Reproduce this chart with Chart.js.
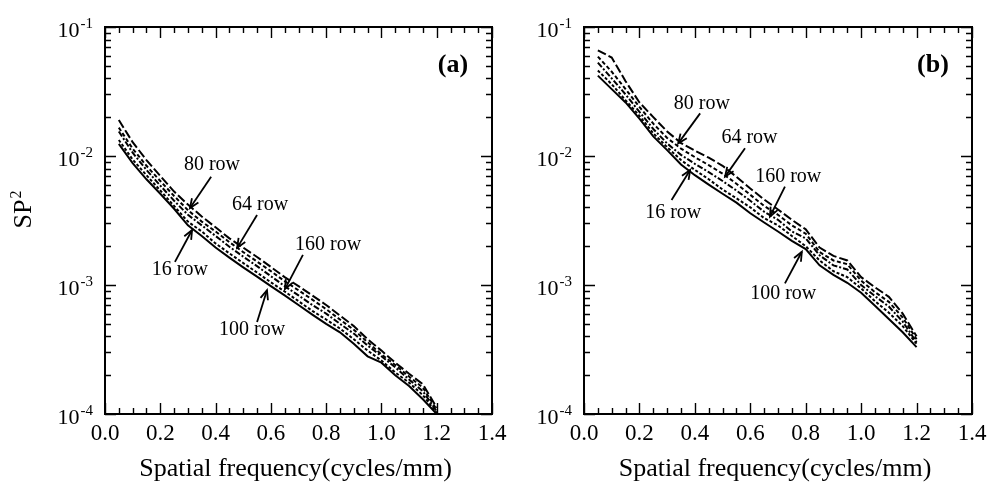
<!DOCTYPE html>
<html>
<head>
<meta charset="utf-8">
<script src="https://cdn.jsdelivr.net/npm/chart.js@4.4.1/dist/chart.umd.min.js"></script>
<style>
  body { margin: 0; background: #fff; }
  #wrap { position: relative; width: 987px; height: 482px; }
  canvas { position: absolute; top: 0; }
</style>
</head>
<body>
<div id="wrap">
  <canvas id="chartA" width="530" height="482" style="left:0"></canvas>
  <canvas id="chartB" width="493" height="482" style="left:494px"></canvas>
</div>
<script>
// spatial frequency (cycles/mm) where each curve was read
const freq = [0.05, 0.10, 0.15, 0.20, 0.25, 0.30, 0.35, 0.40, 0.45, 0.50, 0.55, 0.60,
              0.65, 0.70, 0.75, 0.80, 0.85, 0.90, 0.95, 1.00, 1.05, 1.10, 1.15, 1.20];

const seriesNames = ['80 row', '64 row', '160 row', '16 row', '100 row'];

// panel (a)
const a80  = [0.0190, 0.0128, 0.0093, 0.0070, 0.0053, 0.0042, 0.0034, 0.0028, 0.0023, 0.00195, 0.00165, 0.00138,
              0.00115, 0.00098, 0.00083, 0.00070, 0.00058, 0.00048, 0.00038, 0.00031, 0.00025, 0.000205, 0.000170, 0.000112];
const a64  = [0.0166, 0.0114, 0.0084, 0.0064, 0.0049, 0.0038, 0.0031, 0.0026, 0.00215, 0.00180, 0.00152, 0.00128,
              0.00107, 0.00091, 0.00077, 0.00065, 0.00054, 0.00045, 0.00036, 0.00029, 0.00024, 0.000195, 0.000160, 0.000108];
const a160 = [0.0155, 0.0106, 0.0078, 0.0059, 0.0045, 0.0035, 0.0029, 0.0024, 0.00198, 0.00166, 0.00140, 0.00117,
              0.00098, 0.00083, 0.00070, 0.00060, 0.00050, 0.00042, 0.00034, 0.00028, 0.00023, 0.000185, 0.000150, 0.000105];
const a16  = [0.0133, 0.0094, 0.0071, 0.0054, 0.0041, 0.0031, 0.0026, 0.0021, 0.00176, 0.00148, 0.00125, 0.00105,
              0.00089, 0.00075, 0.00063, 0.00054, 0.00046, 0.00038, 0.00031, 0.00026, 0.00021, 0.000175, 0.000140, 0.000102];
const a100 = [0.0124, 0.0088, 0.0066, 0.0051, 0.0039, 0.0029, 0.0024, 0.00195, 0.00163, 0.00137, 0.00116, 0.00098,
              0.00083, 0.00070, 0.00059, 0.00050, 0.00043, 0.00035, 0.00028, 0.00025, 0.00020, 0.000165, 0.000130, 0.000100];

// panel (b)
const b80  = [0.066, 0.058, 0.038, 0.026, 0.020, 0.0155, 0.0126, 0.0110, 0.0097, 0.0084, 0.0069, 0.0056,
              0.0046, 0.00385, 0.0032, 0.0027, 0.00195, 0.00168, 0.00155, 0.00115, 0.00096, 0.00081, 0.00060, 0.00040];
const b64  = [0.059, 0.045, 0.033, 0.024, 0.0178, 0.0138, 0.0114, 0.0098, 0.0085, 0.0073, 0.0061, 0.0050,
              0.0041, 0.0035, 0.0029, 0.0025, 0.0018, 0.00155, 0.00145, 0.00108, 0.00088, 0.00074, 0.00056, 0.00038];
const b160 = [0.053, 0.040, 0.030, 0.022, 0.0162, 0.0125, 0.0102, 0.0087, 0.0075, 0.0064, 0.0054, 0.0045,
              0.0037, 0.0032, 0.0026, 0.0023, 0.0017, 0.00142, 0.00132, 0.00100, 0.00082, 0.00068, 0.00052, 0.00036];
const b16  = [0.046, 0.036, 0.027, 0.0205, 0.0150, 0.0117, 0.0093, 0.0078, 0.0066, 0.0055, 0.0047, 0.0040,
              0.0033, 0.0029, 0.0024, 0.0020, 0.00155, 0.00128, 0.00115, 0.00094, 0.00075, 0.00061, 0.00048, 0.00035];
const b100 = [0.042, 0.033, 0.026, 0.0195, 0.0142, 0.0111, 0.0086, 0.0071, 0.0060, 0.0051, 0.00435, 0.0036,
              0.00305, 0.0026, 0.0022, 0.0019, 0.00142, 0.00120, 0.00104, 0.00087, 0.00069, 0.000545, 0.00043, 0.00033];

// axis ticks
const xMajor = [0, 0.2, 0.4, 0.6, 0.8, 1.0, 1.2, 1.4];
const xTickLabels = ['0.0', '0.2', '0.4', '0.6', '0.8', '1.0', '1.2', '1.4'];
const yDecades = [1e-4, 1e-3, 1e-2, 1e-1];
const yTickExp = ['-4', '-3', '-2', '-1'];

// arrow labels: text at (tx,ty), arrow from (ax,ay) to (hx,hy), all in data units
const notesA = [
  { text: '80 row',  tx: 0.387, ty: 8.5e-3,  ax: 0.384, ay: 6.9e-3,  hx: 0.3075, hy: 3.95e-3 },
  { text: '64 row',  tx: 0.561, ty: 4.17e-3, ax: 0.550, ay: 3.49e-3, hx: 0.478,  hy: 1.94e-3 },
  { text: '160 row', tx: 0.807, ty: 2.04e-3, ax: 0.716, ay: 1.71e-3, hx: 0.651,  hy: 9.3e-4 },
  { text: '16 row',  tx: 0.271, ty: 1.31e-3, ax: 0.253, ay: 1.51e-3, hx: 0.315,  hy: 2.67e-3 },
  { text: '100 row', tx: 0.532, ty: 4.48e-4, ax: 0.550, ay: 5.17e-4, hx: 0.586,  hy: 9.1e-4 }
];
const notesB = [
  { text: '80 row',  tx: 0.425, ty: 0.0256,  ax: 0.419, ay: 0.0214,  hx: 0.340, hy: 0.01253 },
  { text: '64 row',  tx: 0.597, ty: 0.01387, ax: 0.581, ay: 0.01148, hx: 0.509, hy: 6.92e-3 },
  { text: '160 row', tx: 0.737, ty: 6.92e-3, ax: 0.725, ay: 5.78e-3, hx: 0.671, hy: 3.39e-3 },
  { text: '16 row',  tx: 0.322, ty: 3.6e-3,  ax: 0.316, ay: 4.56e-3, hx: 0.383, hy: 7.78e-3 },
  { text: '100 row', tx: 0.719, ty: 8.63e-4, ax: 0.725, ay: 1.03e-3, hx: 0.786, hy: 1.81e-3 }
];

const dashes = [[9, 3], [4, 2.5], [6, 2, 2, 2], [3, 2], []];
const serif = '"Liberation Serif", "Times New Roman", serif';

function toPoints(vals) {
  return freq.map((f, i) => ({ x: f, y: vals[i] }));
}

function drawArrow(ctx, x1, y1, x2, y2) {
  const ang = Math.atan2(y2 - y1, x2 - x1);
  ctx.beginPath();
  ctx.moveTo(x1, y1);
  ctx.lineTo(x2, y2);
  ctx.stroke();
  ctx.beginPath();
  ctx.moveTo(x2 - 10 * Math.cos(ang - 0.4), y2 - 10 * Math.sin(ang - 0.4));
  ctx.lineTo(x2, y2);
  ctx.lineTo(x2 - 10 * Math.cos(ang + 0.4), y2 - 10 * Math.sin(ang + 0.4));
  ctx.stroke();
}

function decor(panel, notes, showYTitle) {
  return {
    id: 'decor' + panel,
    afterDraw(chart) {
      const ctx = chart.ctx;
      const ca = chart.chartArea;
      const xs = chart.scales.x, ys = chart.scales.y;
      ctx.save();
      ctx.strokeStyle = '#000';
      ctx.fillStyle = '#000';

      // inward ticks on all four sides
      ctx.lineWidth = 1.4;
      ctx.beginPath();
      for (let k = 0; k <= 28; k++) {
        const px = Math.round(xs.getPixelForValue(k * 0.05)) + 0.5;
        const len = k % 4 === 0 ? 11 : 6;
        ctx.moveTo(px, ca.bottom); ctx.lineTo(px, ca.bottom - len);
        ctx.moveTo(px, ca.top); ctx.lineTo(px, ca.top + len);
      }
      yDecades.slice(0, -1).forEach(d => {
        for (let m = 1; m <= 10; m++) {
          const py = Math.round(ys.getPixelForValue(d * m)) + 0.5;
          const len = (m === 1 || m === 10) ? 11 : 6;
          ctx.moveTo(ca.left, py); ctx.lineTo(ca.left + len, py);
          ctx.moveTo(ca.right, py); ctx.lineTo(ca.right - len, py);
        }
      });
      ctx.stroke();

      ctx.lineWidth = 2;
      ctx.strokeRect(ca.left, ca.top, ca.right - ca.left, ca.bottom - ca.top);

      // x tick labels
      ctx.font = '23px ' + serif;
      ctx.textAlign = 'center';
      ctx.textBaseline = 'middle';
      xMajor.forEach((v, i) => {
        ctx.fillText(xTickLabels[i], xs.getPixelForValue(v), ca.bottom + 20);
      });

      // y tick labels 10^n
      yDecades.forEach((d, i) => {
        const py = ys.getPixelForValue(d) + 3;
        const right = ca.left - 12;
        ctx.font = '15px ' + serif;
        ctx.textAlign = 'right';
        ctx.textBaseline = 'alphabetic';
        const ew = ctx.measureText(yTickExp[i]).width;
        ctx.fillText(yTickExp[i], right, py - 2);
        ctx.font = '22px ' + serif;
        ctx.fillText('10', right - ew - 1, py + 7);
      });

      // x axis title
      ctx.font = '26px ' + serif;
      ctx.textAlign = 'center';
      ctx.textBaseline = 'middle';
      ctx.fillText('Spatial frequency(cycles/mm)', (ca.left + ca.right) / 2 - 3, 469);

      // panel tag
      ctx.font = 'bold 26px ' + serif;
      ctx.fillText('(' + panel + ')', ca.right - 39, 65);

      // y axis title
      if (showYTitle) {
        ctx.save();
        ctx.translate(22, 210);
        ctx.rotate(-Math.PI / 2);
        ctx.font = '26px ' + serif;
        ctx.textAlign = 'left';
        ctx.textBaseline = 'middle';
        const w = ctx.measureText('SP').width;
        ctx.font = '16px ' + serif;
        const w2 = ctx.measureText('2').width;
        ctx.font = '26px ' + serif;
        ctx.fillText('SP', -(w + w2) / 2, 2);
        ctx.font = '16px ' + serif;
        ctx.fillText('2', -(w + w2) / 2 + w + 1, -5);
        ctx.restore();
      }

      // arrow labels
      ctx.font = '20px ' + serif;
      ctx.textAlign = 'center';
      ctx.textBaseline = 'middle';
      ctx.lineWidth = 1.8;
      notes.forEach(n => {
        ctx.fillText(n.text, xs.getPixelForValue(n.tx), ys.getPixelForValue(n.ty));
        drawArrow(ctx, xs.getPixelForValue(n.ax), ys.getPixelForValue(n.ay),
                  xs.getPixelForValue(n.hx), ys.getPixelForValue(n.hy));
      });
      ctx.restore();
    }
  };
}

function makeChart(id, panel, lists, notes, leftW, rightPad, showYTitle) {
  const datasets = lists.map((vals, i) => ({
    label: seriesNames[i],
    data: toPoints(vals),
    borderColor: '#000',
    borderWidth: 2,
    borderDash: dashes[i],
    pointRadius: 0,
    tension: 0,
    fill: false
  }));
  return new Chart(document.getElementById(id), {
    type: 'line',
    data: { datasets },
    options: {
      responsive: false,
      animation: false,
      events: [],
      layout: { padding: { left: 0, top: 27, right: rightPad, bottom: 0 } },
      plugins: { legend: { display: false }, tooltip: { enabled: false } },
      scales: {
        x: {
          type: 'linear', min: 0, max: 1.4,
          grid: { display: false }, border: { display: false },
          ticks: { display: false },
          afterFit: s => { s.height = 68; }
        },
        y: {
          type: 'logarithmic', min: 1e-4, max: 1e-1,
          grid: { display: false }, border: { display: false },
          ticks: { display: false },
          afterFit: s => { s.width = leftW; }
        }
      }
    },
    plugins: [decor(panel, notes, showYTitle)]
  });
}

makeChart('chartA', 'a', [a80, a64, a160, a16, a100], notesA, 105, 38, true);
makeChart('chartB', 'b', [b80, b64, b160, b16, b100], notesB, 90, 15, false);
</script>
</body>
</html>
